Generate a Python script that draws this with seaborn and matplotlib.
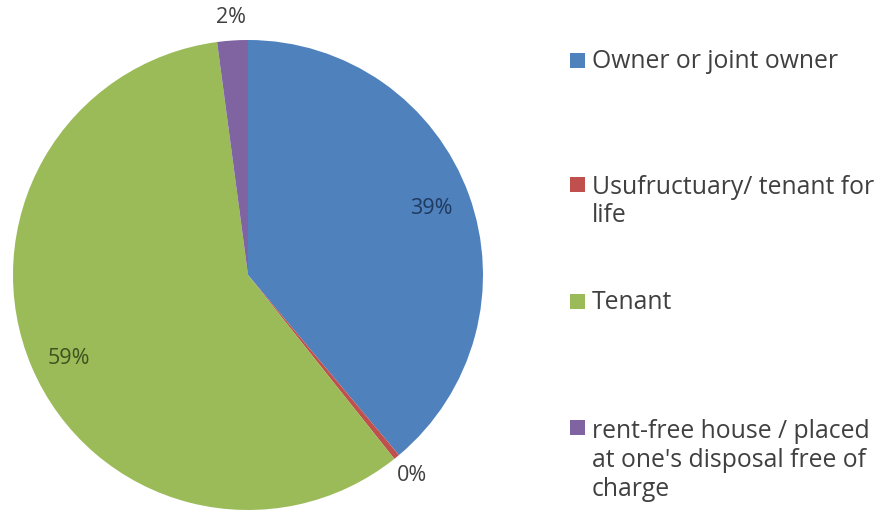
import numpy as np
import matplotlib
matplotlib.use("Agg")
import matplotlib.pyplot as plt
import seaborn as sns
from matplotlib.patches import Rectangle

categories = ["Owner or joint owner", "Usufructuary/ tenant for\nlife", "Tenant",
              "rent-free house / placed\nat one's disposal free of\ncharge"]
values = [38.9, 0.4, 58.6, 2.1]
pct_labels = ["39%", "0%", "59%", "2%"]
colors = ["#4F81BD", "#C0504D", "#9BBB59", "#8064A2"]
label_colors = ["#1F3A5F", "#404040", "#3F5220", "#404040"]
legend_baselines = [68, 192, 309, 435]

sns.set_theme(style="white")
plt.rcParams['font.family'] = ['Open Sans', 'DejaVu Sans']

W, H = 889, 512
fig = plt.figure(figsize=(W / 100, H / 100), dpi=100)
fig.patch.set_facecolor("white")

cx, cy, r = 248, 275, 235
ax = fig.add_axes([(cx - r) / W, (H - cy - r) / H, 2 * r / W, 2 * r / H])
wedges, _ = ax.pie(values, colors=colors, startangle=90, counterclock=False,
                   radius=1.0, wedgeprops=dict(linewidth=0))
ax.set_xlim(-1, 1)
ax.set_ylim(-1, 1)
ax.set_aspect("equal")
ax.axis("off")

# percentage labels
total = sum(values)
start = 90.0
for v, lab, col in zip(values, pct_labels, label_colors):
    sweep = v / total * 360
    mid = np.deg2rad(start - sweep / 2)
    start -= sweep
    dist = 0.83 if v > 10 else 1.10
    ax.text(dist * np.cos(mid), dist * np.sin(mid) - (0.03 if v > 50 else 0), lab,
            ha="center", va="center", fontsize=15.5, color=col, clip_on=False)

# legend
line_px = 30.5
for cat, col, yb in zip(categories, colors, legend_baselines):
    n = cat.count("\n")
    fig.patches.append(Rectangle((570 / W, 1 - yb / H), 15 / W, 15 / H,
                                 transform=fig.transFigure, facecolor=col,
                                 edgecolor="none"))
    fig.text(592 / W, 1 - (yb + n * line_px) / H, cat, ha="left", va="baseline",
             fontsize=17.8, color="#404040", linespacing=1.21,
             transform=fig.transFigure)

fig.savefig("out.png", dpi=100, facecolor="white")
